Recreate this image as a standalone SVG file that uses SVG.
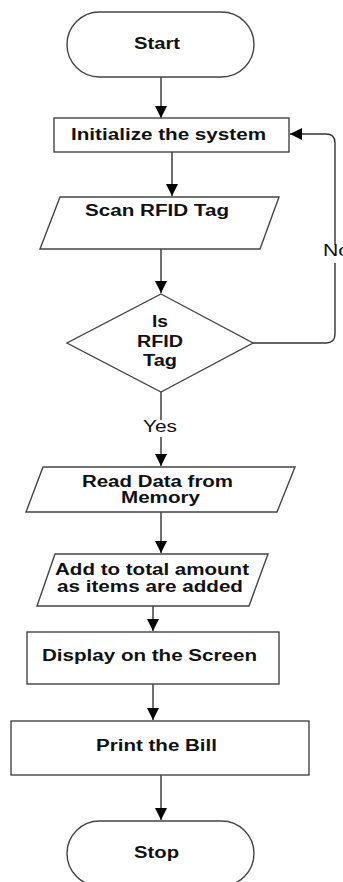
<svg xmlns="http://www.w3.org/2000/svg" width="343" height="882" viewBox="0 0 343 882">
<style>
.shape{fill:#fff;stroke:#444;stroke-width:1.4}
.conn{fill:none;stroke:#333;stroke-width:1.4}
.lbl{font-family:"Liberation Sans",Arial,sans-serif;font-weight:bold;font-size:16px;fill:#111;text-anchor:start}
.reg{font-family:"Liberation Sans",Arial,sans-serif;font-size:16px;fill:#111}
</style>
<defs>
<marker id="ah" markerUnits="userSpaceOnUse" markerWidth="13" markerHeight="13" refX="12" refY="6" orient="auto">
<path d="M0,0 L12,6 L0,12 z" fill="#000"/>
</marker>
</defs>
<rect width="343" height="882" fill="#fff"/>
<g id="connectors">
<line class="conn" x1="161" y1="77" x2="161" y2="118" marker-end="url(#ah)"/>
<line class="conn" x1="172" y1="152" x2="172" y2="196" marker-end="url(#ah)"/>
<line class="conn" x1="161" y1="249" x2="161" y2="293" marker-end="url(#ah)"/>
<line class="conn" x1="161" y1="392" x2="161" y2="466" marker-end="url(#ah)"/>
<line class="conn" x1="161" y1="512" x2="161" y2="553" marker-end="url(#ah)"/>
<line class="conn" x1="153" y1="606" x2="153" y2="631" marker-end="url(#ah)"/>
<line class="conn" x1="153" y1="684" x2="153" y2="720" marker-end="url(#ah)"/>
<line class="conn" x1="161" y1="775" x2="161" y2="820" marker-end="url(#ah)"/>
<path class="conn" d="M253 343 H326 Q335 343 335 334 V143 Q335 134 326 134 H290" marker-end="url(#ah)"/>
<rect x="130" y="420" width="60" height="17" fill="#fff"/>
<text class="reg" x="143" y="432" textLength="34" lengthAdjust="spacingAndGlyphs">Yes</text>
<rect x="320" y="245" width="23" height="18" fill="#fff"/>
<text class="reg" x="323" y="256" textLength="27" lengthAdjust="spacingAndGlyphs">No</text>
</g>
<g id="start">
<rect class="shape" x="67" y="12" width="187" height="65" rx="32.5" ry="32.5"/>
<text class="lbl" x="134" y="49" textLength="46" lengthAdjust="spacingAndGlyphs">Start</text>
</g>
<g id="init">
<rect class="shape" x="54" y="118" width="235" height="34"/>
<text class="lbl" x="71" y="140" textLength="195" lengthAdjust="spacingAndGlyphs">Initialize the system</text>
</g>
<g id="scan">
<polygon class="shape" points="60,197 279,197 260,249 40,249"/>
<text class="lbl" x="85" y="216" textLength="144" lengthAdjust="spacingAndGlyphs">Scan RFID Tag</text>
</g>
<g id="decision">
<polygon class="shape" points="161,294 253,343 161,392 67,343"/>
<text class="lbl" x="152" y="327" textLength="16" lengthAdjust="spacingAndGlyphs">Is</text>
<text class="lbl" x="137" y="347" textLength="46" lengthAdjust="spacingAndGlyphs">RFID</text>
<text class="lbl" x="143" y="366" textLength="34" lengthAdjust="spacingAndGlyphs">Tag</text>
</g>
<g id="read">
<polygon class="shape" points="43,467 295,467 277,512 26,512"/>
<text class="lbl" x="82" y="487" textLength="151" lengthAdjust="spacingAndGlyphs">Read Data from</text>
<text class="lbl" x="121" y="503" textLength="79" lengthAdjust="spacingAndGlyphs">Memory</text>
</g>
<g id="add">
<polygon class="shape" points="55,554 268,554 249,606 37,606"/>
<text class="lbl" x="55" y="575" textLength="194" lengthAdjust="spacingAndGlyphs">Add to total amount</text>
<text class="lbl" x="57" y="592" textLength="186" lengthAdjust="spacingAndGlyphs">as items are added</text>
</g>
<g id="display">
<rect class="shape" x="27" y="632" width="252" height="52"/>
<text class="lbl" x="42" y="661" textLength="215" lengthAdjust="spacingAndGlyphs">Display on the Screen</text>
</g>
<g id="print">
<rect class="shape" x="11" y="721" width="298" height="54"/>
<text class="lbl" x="96" y="751" textLength="121" lengthAdjust="spacingAndGlyphs">Print the Bill</text>
</g>
<g id="stop">
<rect class="shape" x="67" y="821" width="187" height="65" rx="32.5" ry="32.5"/>
<text class="lbl" x="134" y="858" textLength="45" lengthAdjust="spacingAndGlyphs">Stop</text>
</g>
</svg>
